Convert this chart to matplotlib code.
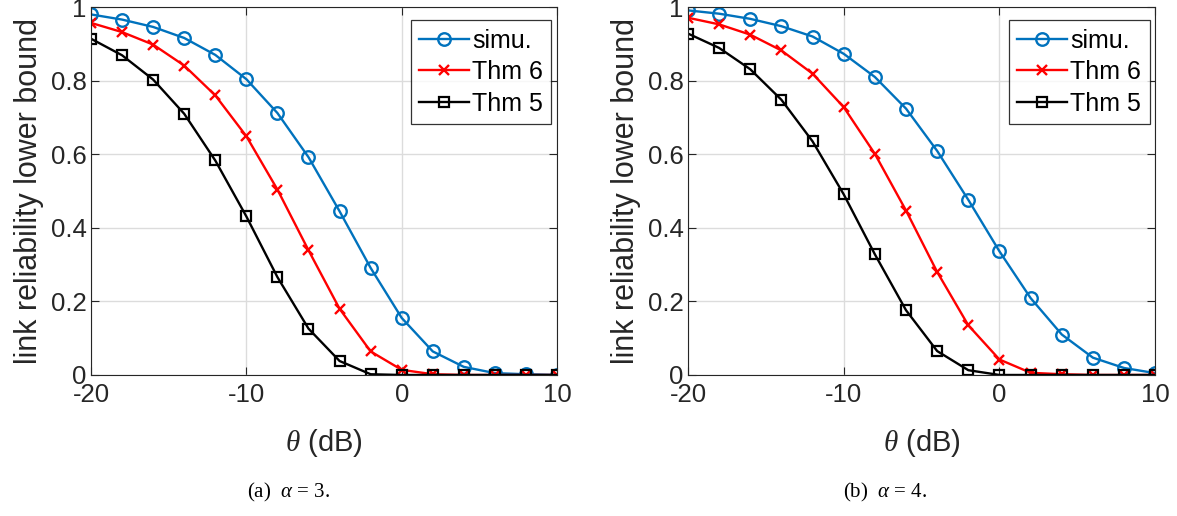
import matplotlib
matplotlib.use("Agg")
import matplotlib.pyplot as plt
import numpy as np

# theta in dB
theta = np.arange(-20, 11, 2)

# (a) alpha = 3
simu_a = [0.980, 0.966, 0.946, 0.916, 0.870, 0.804, 0.712, 0.592, 0.445, 0.291,
          0.155, 0.064, 0.022, 0.005, 0.002, 0.000]
thm6_a = [0.957, 0.932, 0.898, 0.841, 0.760, 0.649, 0.504, 0.339, 0.180, 0.064,
          0.014, 0.002, 0.000, 0.000, 0.000, 0.000]
thm5_a = [0.914, 0.869, 0.803, 0.710, 0.583, 0.431, 0.266, 0.126, 0.038, 0.002,
          0.000, 0.000, 0.000, 0.000, 0.000, 0.000]

# (b) alpha = 4
simu_b = [0.991, 0.982, 0.968, 0.948, 0.920, 0.873, 0.810, 0.724, 0.609, 0.476,
          0.336, 0.209, 0.110, 0.047, 0.019, 0.005]
thm6_b = [0.971, 0.953, 0.925, 0.882, 0.819, 0.728, 0.601, 0.447, 0.280, 0.135,
          0.042, 0.006, 0.002, 0.000, 0.000, 0.000]
thm5_b = [0.928, 0.889, 0.831, 0.748, 0.635, 0.491, 0.328, 0.176, 0.065, 0.013,
          0.000, 0.000, 0.000, 0.000, 0.000, 0.000]

captions = [r"(a)  $\alpha$ = 3.", r"(b)  $\alpha$ = 4."]
legend_labels = ["simu.", "Thm 6", "Thm 5"]

plt.rcParams["font.family"] = ["Liberation Sans", "DejaVu Sans"]
plt.rcParams["axes.unicode_minus"] = False
plt.rcParams["mathtext.fontset"] = "custom"
plt.rcParams["mathtext.it"] = "Liberation Serif:italic"
plt.rcParams["mathtext.rm"] = "Liberation Serif"

fig = plt.figure(figsize=(11.77, 5.16), dpi=100)
dark = "#262626"

panels = [
    ([0.0773, 0.2733, 0.396, 0.713], simu_a, thm6_a, thm5_a, 0.245),
    ([0.5845, 0.2733, 0.397, 0.713], simu_b, thm6_b, thm5_b, 0.752),
]

for i, (pos, s, t6, t5, cx) in enumerate(panels):
    ax = fig.add_axes(pos)
    ax.plot(theta, s, color="#0072BD", lw=1.7, marker="o", ms=9,
            mfc="none", mew=1.7, label=legend_labels[0])
    ax.plot(theta, t6, color="red", lw=1.7, marker="x", ms=7,
            mew=1.7, label=legend_labels[1])
    ax.plot(theta, t5, color="black", lw=1.7, marker="s", ms=7,
            mfc="none", mew=1.6, label=legend_labels[2])

    ax.set_xlim(-20, 10)
    ax.set_ylim(0, 1)
    ax.set_xticks([-20, -10, 0, 10])
    ax.set_yticks([0, 0.2, 0.4, 0.6, 0.8, 1])
    ax.set_yticklabels(["0", "0.2", "0.4", "0.6", "0.8", "1"])
    ax.grid(True, color="#dcdcdc", lw=1.0)
    ax.set_axisbelow(True)
    ax.tick_params(direction="in", top=True, right=True, labelsize=18.5,
                   colors=dark, length=6, width=0.8)
    ax.tick_params(axis="x", pad=6)
    ax.tick_params(axis="y", pad=3)
    for sp in ax.spines.values():
        sp.set_color(dark)
        sp.set_linewidth(0.8)

    ax.set_xlabel(r"$\theta$ (dB)", fontsize=21, color=dark, labelpad=14)
    ax.set_ylabel("link reliability lower bound", fontsize=22, color=dark,
                  labelpad=5)

    leg = ax.legend(loc="upper right", fontsize=18, frameon=True, fancybox=False,
                    edgecolor="black", borderpad=0.35, handlelength=2.0,
                    handletextpad=0.1, labelspacing=0.3, borderaxespad=0,
                    bbox_to_anchor=(0.988, 0.965))
    leg.get_frame().set_linewidth(0.9)

    fig.text(cx, 0.046, captions[i], ha="center", va="center", fontsize=15,
             family="Liberation Serif")

fig.savefig("out.png", dpi=100)
